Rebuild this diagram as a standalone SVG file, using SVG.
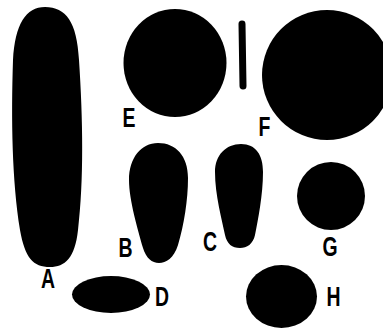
<svg xmlns="http://www.w3.org/2000/svg" width="383" height="331" viewBox="0 0 383 331">
<style>
.s{fill:#000}
.l{font-family:"Liberation Sans",Arial,sans-serif;font-size:27px;font-weight:bold;fill:#000;text-anchor:middle}
</style>
<rect width="383" height="331" fill="#fff"/>
<g id="A"><path class="s" d="M45,7 C66,7 77,22 79,60 C83,120 84,180 78,230 C75,258 65,267 50,267 C33,267 25,258 20,230 C12,180 11,120 13,60 C15,24 26,7 45,7 Z"/><text class="l" transform="translate(48,288) scale(0.72,1)">A</text></g>
<g id="E"><ellipse class="s" cx="175" cy="63" rx="51.5" ry="54"/><text class="l" transform="translate(129,127) scale(0.72,1)">E</text></g>
<g id="bar"><line x1="242" y1="24" x2="243" y2="86" stroke="#000" stroke-width="7" stroke-linecap="round"/></g>
<g id="F"><circle class="s" cx="327" cy="75" r="65"/><text class="l" transform="translate(264.5,136) scale(0.72,1)">F</text></g>
<g id="B"><path class="s" d="M158,143 C176,143 188,156 188,178 C188,200 184,225 178,245 C174,258 166,263 159,263 C152,263 146,258 143,248 C138,230 129,200 129,180 C129,158 141,143 158,143 Z"/><text class="l" transform="translate(125.5,257) scale(0.72,1)">B</text></g>
<g id="C"><path class="s" d="M241,144 C256,144 263,155 263,172 C263,195 258,220 255,235 C253,244 247,248 240,248 C232,248 227,244 225,235 C222,220 215,195 215,172 C215,155 226,144 241,144 Z"/><text class="l" transform="translate(210,251) scale(0.72,1)">C</text></g>
<g id="G"><circle class="s" cx="331" cy="196" r="34"/><text class="l" transform="translate(330,256) scale(0.72,1)">G</text></g>
<g id="D"><ellipse class="s" cx="111" cy="294.5" rx="39" ry="18.5"/><text class="l" transform="translate(162,306) scale(0.72,1)">D</text></g>
<g id="H"><ellipse class="s" cx="281.5" cy="296.5" rx="35.5" ry="31.5"/><text class="l" transform="translate(333.5,306) scale(0.72,1)">H</text></g>
</svg>
